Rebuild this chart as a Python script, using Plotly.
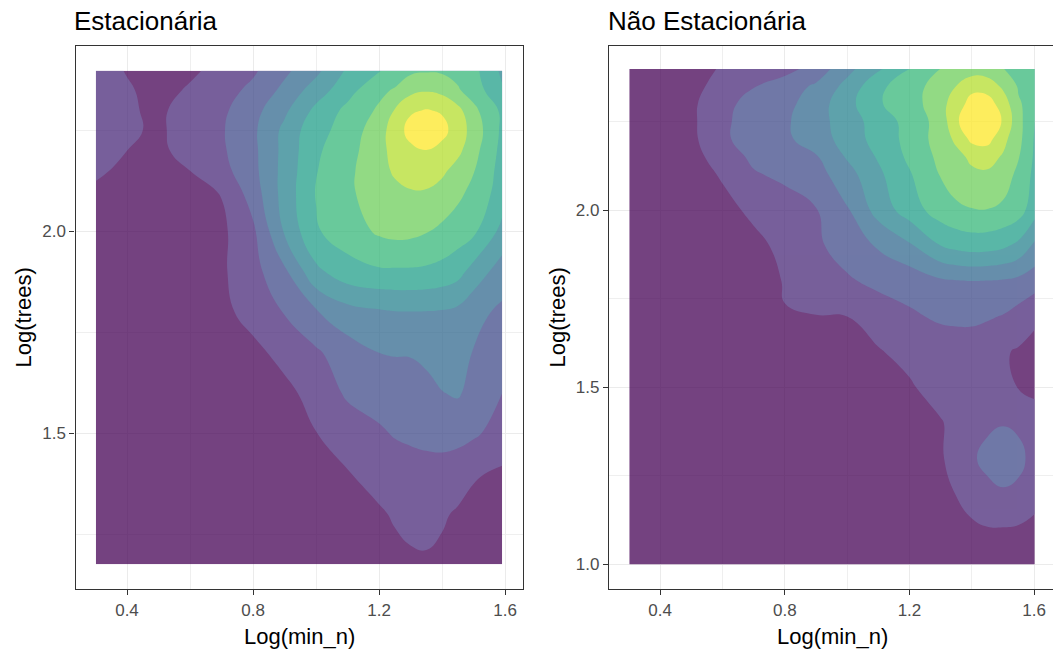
import plotly.graph_objects as go

# ---------------------------------------------------------------
# 2D density of (Log(min_n), Log(trees)), expressed in density bins
# (0 = lowest density, 10 = highest), on a grid covering the data.
# ---------------------------------------------------------------

# Panel "Estacionária"
x_est = [0.301, 0.40, 0.50, 0.60, 0.70, 0.80, 0.90, 1.00, 1.10, 1.20,
         1.25, 1.30, 1.35, 1.40, 1.45, 1.50, 1.591]
y_est = [1.176, 1.30, 1.40, 1.50, 1.60, 1.70, 1.80, 1.90, 2.00, 2.10,
         2.15, 2.20, 2.25, 2.30, 2.35, 2.398]
z_est = [
    [0.05, 0.05, 0.05, 0.10, 0.10, 0.15, 0.20, 0.30, 0.45, 0.65, 0.78, 0.88, 0.90, 0.82, 0.65, 0.50, 0.35],
    [0.10, 0.10, 0.10, 0.10, 0.15, 0.20, 0.25, 0.40, 0.60, 0.90, 1.08, 1.20, 1.25, 1.10, 0.90, 0.70, 0.50],
    [0.10, 0.10, 0.10, 0.15, 0.20, 0.25, 0.40, 0.65, 0.95, 1.30, 1.45, 1.55, 1.60, 1.55, 1.40, 1.10, 0.85],
    [0.15, 0.15, 0.15, 0.20, 0.25, 0.35, 0.60, 0.98, 1.45, 1.85, 2.08, 2.20, 2.30, 2.40, 2.35, 2.15, 1.60],
    [0.20, 0.20, 0.20, 0.25, 0.35, 0.50, 0.75, 1.35, 2.15, 2.45, 2.55, 2.65, 2.80, 2.97, 3.10, 2.70, 2.00],
    [0.25, 0.20, 0.25, 0.30, 0.45, 0.75, 1.30, 1.85, 2.55, 3.00, 3.05, 3.05, 3.15, 3.45, 3.50, 2.95, 2.50],
    [0.30, 0.25, 0.30, 0.40, 0.75, 1.35, 2.05, 2.90, 3.60, 3.85, 3.95, 3.97, 3.95, 3.90, 3.75, 3.30, 2.80],
    [0.35, 0.30, 0.35, 0.50, 0.85, 1.65, 2.80, 4.75, 5.60, 5.85, 5.85, 5.85, 5.80, 5.65, 5.35, 4.60, 3.50],
    [0.50, 0.40, 0.45, 0.55, 0.80, 1.80, 4.10, 5.90, 6.50, 7.15, 7.30, 7.25, 7.05, 6.80, 6.50, 6.20, 4.70],
    [0.85, 0.60, 0.55, 0.75, 1.05, 2.50, 4.40, 6.05, 6.85, 7.45, 7.75, 7.95, 7.95, 7.65, 7.25, 6.75, 5.55],
    [1.15, 0.80, 0.70, 1.00, 1.65, 2.70, 4.35, 5.95, 6.80, 7.60, 8.15, 8.45, 8.45, 8.20, 7.60, 7.05, 5.60],
    [1.35, 1.00, 0.80, 1.35, 1.85, 2.75, 4.30, 5.85, 6.60, 7.70, 8.30, 8.75, 8.97, 8.70, 8.25, 7.35, 5.70],
    [1.50, 1.15, 0.85, 1.42, 1.90, 2.80, 4.25, 5.70, 6.35, 7.65, 8.40, 9.40, 9.80, 9.30, 8.55, 7.60, 5.80],
    [1.50, 1.10, 0.85, 1.35, 1.80, 2.65, 3.80, 5.25, 6.25, 7.15, 8.05, 8.85, 9.05, 8.90, 8.30, 7.25, 5.80],
    [1.50, 1.10, 0.70, 1.10, 1.60, 2.23, 3.25, 4.48, 5.63, 6.75, 7.10, 7.70, 7.90, 7.70, 7.10, 6.55, 5.10],
    [1.40, 0.95, 0.70, 0.85, 1.27, 1.85, 2.79, 3.75, 5.16, 5.95, 6.35, 6.80, 6.90, 6.85, 6.70, 6.30, 4.80],
]

# Panel "Não Estacionária"
x_non = [0.301, 0.40, 0.50, 0.60, 0.70, 0.80, 0.90, 1.00, 1.10, 1.20,
         1.30, 1.35, 1.40, 1.45, 1.50, 1.55, 1.602]
y_non = [1.00, 1.10, 1.20, 1.30, 1.40, 1.50, 1.60, 1.70, 1.80, 1.90,
         2.00, 2.10, 2.15, 2.20, 2.25, 2.30, 2.35, 2.398]
z_non = [
    [0.02, 0.02, 0.02, 0.02, 0.03, 0.04, 0.05, 0.08, 0.12, 0.20, 0.30, 0.38, 0.45, 0.50, 0.52, 0.50, 0.48],
    [0.05, 0.05, 0.05, 0.05, 0.05, 0.05, 0.10, 0.15, 0.20, 0.35, 0.55, 0.70, 0.85, 0.95, 0.95, 0.90, 0.85],
    [0.05, 0.05, 0.05, 0.05, 0.05, 0.10, 0.15, 0.20, 0.30, 0.50, 0.80, 1.02, 1.35, 1.70, 1.90, 1.75, 1.20],
    [0.05, 0.05, 0.05, 0.05, 0.10, 0.15, 0.20, 0.30, 0.45, 0.65, 0.93, 1.25, 1.85, 2.30, 2.45, 2.30, 1.60],
    [0.05, 0.05, 0.05, 0.05, 0.10, 0.20, 0.30, 0.40, 0.55, 0.75, 0.95, 1.20, 1.50, 1.80, 1.95, 1.80, 1.30],
    [0.05, 0.05, 0.05, 0.10, 0.20, 0.30, 0.45, 0.60, 0.75, 0.92, 1.30, 1.45, 1.50, 1.40, 1.20, 0.97, 0.85],
    [0.05, 0.05, 0.10, 0.15, 0.30, 0.50, 0.65, 0.80, 0.95, 1.20, 1.45, 1.50, 1.50, 1.35, 1.10, 0.90, 0.75],
    [0.10, 0.10, 0.15, 0.25, 0.45, 0.97, 0.98, 1.00, 1.30, 1.85, 2.15, 2.20, 2.20, 2.10, 1.95, 1.60, 1.15],
    [0.10, 0.15, 0.20, 0.35, 0.60, 1.05, 1.40, 1.85, 2.30, 2.40, 2.85, 2.95, 3.00, 2.97, 2.90, 2.75, 2.45],
    [0.15, 0.20, 0.30, 0.45, 0.75, 1.25, 1.80, 2.50, 3.10, 3.85, 5.00, 5.30, 5.45, 5.40, 5.20, 4.75, 3.80],
    [0.20, 0.25, 0.40, 0.70, 1.20, 1.55, 1.95, 2.90, 4.40, 5.50, 6.50, 6.80, 6.95, 6.97, 6.80, 6.45, 5.40],
    [0.25, 0.30, 0.55, 1.10, 1.90, 2.20, 2.60, 3.60, 4.80, 5.90, 7.05, 7.50, 7.80, 7.85, 7.50, 6.75, 5.75],
    [0.30, 0.35, 0.65, 1.45, 2.20, 2.55, 2.90, 4.10, 5.10, 6.20, 7.25, 7.70, 8.20, 8.35, 7.90, 7.05, 5.85],
    [0.30, 0.40, 0.75, 1.88, 2.30, 2.80, 3.50, 4.40, 5.40, 6.30, 7.45, 8.20, 9.25, 9.35, 8.30, 7.30, 5.90],
    [0.30, 0.40, 0.80, 1.85, 2.35, 2.85, 3.60, 4.50, 5.45, 6.35, 7.40, 8.85, 9.70, 9.90, 8.90, 7.35, 6.00],
    [0.30, 0.40, 0.80, 1.75, 2.30, 2.70, 3.50, 4.65, 5.90, 6.55, 7.60, 8.60, 9.30, 9.40, 8.60, 7.10, 6.60],
    [0.30, 0.35, 0.75, 1.30, 1.95, 2.50, 3.15, 4.30, 5.75, 6.60, 7.40, 8.00, 8.75, 8.60, 7.80, 6.90, 6.50],
    [0.30, 0.35, 0.60, 1.10, 1.45, 1.65, 2.40, 3.70, 4.85, 6.00, 7.02, 7.30, 7.45, 7.40, 7.05, 6.40, 6.30],
]

panel_titles = ["Estacionária", "Não Estacionária"]
x_title = "Log(min_n)"
y_title = "Log(trees)"
x_ticks = [0.4, 0.8, 1.2, 1.6]
y_ticks_est = [1.5, 2.0]
y_ticks_non = [1.0, 1.5, 2.0]

# ten density bins, viridis, drawn with transparency
viridis10 = ["#440154", "#482878", "#3E4A89", "#31688E", "#26828E",
             "#1F9E89", "#35B779", "#6DCD59", "#B4DE2C", "#FDE725"]
bin_scale = [[i / 9, c] for i, c in enumerate(viridis10)]

W, H = 1053, 650
FONT = "Arial, 'Liberation Sans', sans-serif"


def density(x, y, z, xa, ya):
    return go.Contour(
        x=x, y=y, z=z, xaxis=xa, yaxis=ya,
        colorscale=bin_scale, showscale=False, opacity=0.74,
        contours=dict(start=1, end=9, size=1, coloring="fill", showlines=False),
        line=dict(width=0, smoothing=1.3),
        hoverinfo="skip",
    )


fig = go.Figure()
fig.add_trace(density(x_est, y_est, z_est, "x", "y"))
fig.add_trace(density(x_non, y_non, z_non, "x2", "y2"))

# panel geometry in pixels
top_px, bot_px = 46, 589
ydom = [1 - bot_px / H, 1 - top_px / H]
left_dom = [75.5 / W, 522.5 / W]
right_dom = [609 / W, 1.0]

grid_major = dict(showgrid=True, gridcolor="#EBEBEB", gridwidth=1.1)
common = dict(
    ticks="outside", ticklen=5, tickwidth=1, tickcolor="#333333",
    tickfont=dict(size=17, color="#4D4D4D", family=FONT),
    zeroline=False, showline=True, linecolor="#333333", linewidth=1.2,
    **grid_major,
)
minor_x = dict(tickvals=[0.6, 1.0, 1.4], showgrid=True, gridcolor="#EFEFEF", gridwidth=0.6)
minor_y = dict(tickvals=[1.25, 1.75, 2.25], showgrid=True, gridcolor="#EFEFEF", gridwidth=0.6)

fig.update_layout(
    width=W, height=H, margin=dict(l=0, r=0, t=0, b=0),
    paper_bgcolor="white", plot_bgcolor="white", showlegend=False,
    font=dict(family=FONT),
    xaxis=dict(domain=left_dom, range=[0.2365, 1.6555], tickvals=x_ticks,
               ticktext=[f"{v:.1f}" for v in x_ticks], mirror=True,
               minor=minor_x, anchor="y", **common),
    yaxis=dict(domain=ydom, range=[1.115, 2.459], tickvals=y_ticks_est,
               ticktext=[f"{v:.1f}" for v in y_ticks_est], mirror=True,
               minor=minor_y, anchor="x", **common),
    xaxis2=dict(domain=right_dom, range=[0.236, 1.6605], tickvals=x_ticks,
                ticktext=[f"{v:.1f}" for v in x_ticks], mirror=True,
                minor=minor_x, anchor="y2", **common),
    yaxis2=dict(domain=ydom, range=[0.931, 2.463], tickvals=y_ticks_non,
                ticktext=[f"{v:.1f}" for v in y_ticks_non], mirror=False,
                minor=minor_y, anchor="x2", **common),
)

annotations = []
for dom, title in zip([left_dom, right_dom], panel_titles):
    annotations.append(dict(
        text=title, xref="paper", yref="paper", x=dom[0] - 3.5 / W, y=1 - 21 / H,
        xanchor="left", yanchor="middle", showarrow=False,
        font=dict(size=26, color="black", family=FONT)))
for cx in [299 / W, 832 / W]:
    annotations.append(dict(
        text=x_title, xref="paper", yref="paper", x=cx, y=1 - 636 / H,
        xanchor="center", yanchor="middle", showarrow=False,
        font=dict(size=22, color="black", family=FONT)))
for cx in [23 / W, 557 / W]:
    annotations.append(dict(
        text=y_title, xref="paper", yref="paper", x=cx, y=1 - 317.5 / H,
        xanchor="center", yanchor="middle", textangle=-90, showarrow=False,
        font=dict(size=22, color="black", family=FONT)))
fig.update_layout(annotations=annotations)

fig.write_html("out.html")
